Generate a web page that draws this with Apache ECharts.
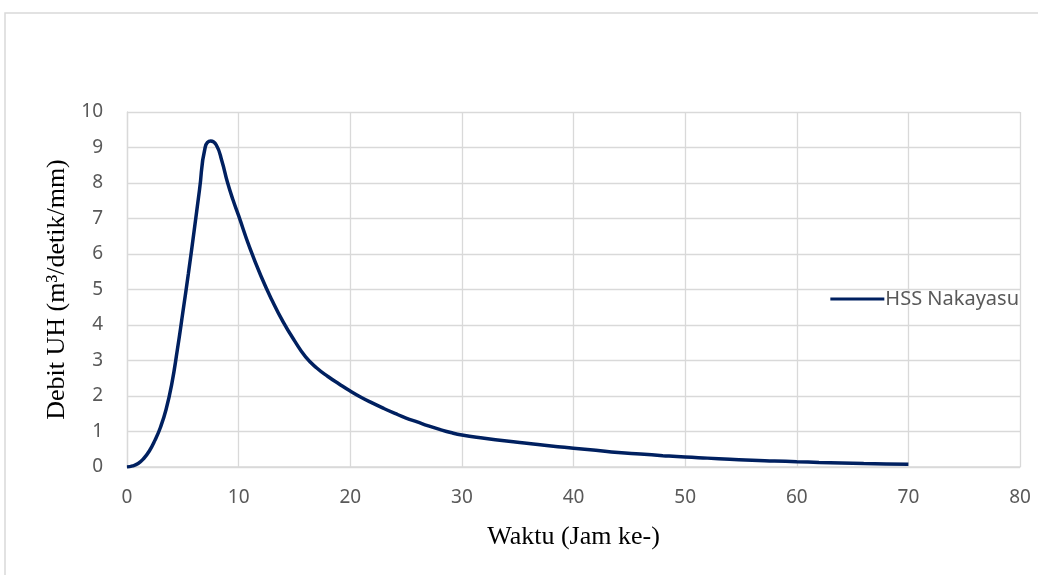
<!DOCTYPE html>
<html>
<head>
<meta charset="utf-8">
<script src="https://cdn.jsdelivr.net/npm/echarts@6/dist/echarts.min.js"></script>
<style>html,body{margin:0;padding:0;background:#fff;}#c{width:1038px;height:575px;}</style>
</head>
<body>
<div id="c"></div>
<script>
const seriesName = 'HSS Nakayasu';
const xTitle = 'Waktu (Jam ke-)';
const yTitle = 'Debit UH (m³/detik/mm)';
const times = [0,0.5,1,1.5,2,2.5,3,3.5,4,4.5,5,5.5,6,6.5,7,7.5,8,8.5,9,9.5,10,11,12,13,14,15,16,17,18,19,20,21,22,23,24,25,26,27,28,29,30,32,34,36,38,40,42,44,46,48,50,52,54,56,58,60,62,64,66,68,70];
const debit = [0,0.03,0.1,0.24,0.45,0.75,1.12,1.62,2.32,3.28,4.35,5.45,6.62,7.82,9.0,9.18,9.07,8.62,8.02,7.52,7.08,6.17,5.38,4.69,4.08,3.56,3.1,2.79,2.55,2.34,2.14,1.96,1.8,1.65,1.51,1.38,1.27,1.16,1.06,0.97,0.9,0.81,0.73,0.66,0.59,0.53,0.47,0.41,0.365,0.32,0.28,0.25,0.22,0.19,0.17,0.148,0.13,0.115,0.1,0.087,0.074];

const chart = echarts.init(document.getElementById('c'), null, {renderer:'canvas'});
const tickFont = {color:'#595959', fontSize:19, fontFamily:'Noto Sans'};
chart.setOption({
  animation:false,
  backgroundColor:'#fff',
  graphic:[{type:'rect', shape:{x:5,y:13,width:1100,height:700}, style:{fill:'none', stroke:'#d9d9d9', lineWidth:1.5}, z:-10}],
  grid:{left:127, right:18, top:112, bottom:108, containLabel:false},
  legend:{
    data:[seriesName], right:14, top:284, itemWidth:54, itemHeight:24, itemGap:4,
    icon:'path://M0,10.5 L54,10.5 L54,13.5 L0,13.5 Z',
    textStyle:{color:'#595959', fontSize:20, fontFamily:'Noto Sans', padding:[0,0,0,-4]}
  },
  xAxis:{
    type:'value', min:0, max:80, interval:10,
    name:xTitle, nameLocation:'middle', nameGap:57,
    nameTextStyle:{color:'#000', fontSize:26, fontFamily:'Liberation Serif'},
    axisLine:{show:true, lineStyle:{color:'#d9d9d9', width:1.5}},
    axisTick:{show:false},
    axisLabel:{...tickFont, margin:21},
    splitLine:{show:true, lineStyle:{color:'#d9d9d9', width:1.3}}
  },
  yAxis:{
    type:'value', min:0, max:10, interval:1,
    name:yTitle, nameLocation:'middle', nameGap:56, nameRotate:90,
    nameTextStyle:{color:'#000', fontSize:26, fontFamily:'Liberation Serif'},
    axisLine:{show:true, lineStyle:{color:'#d9d9d9', width:1.3}},
    axisTick:{show:false},
    axisLabel:{...tickFont, margin:24},
    splitLine:{show:true, lineStyle:{color:'#d9d9d9', width:1.3}}
  },
  series:[{
    name:seriesName, type:'line', smooth:0.5, showSymbol:false, symbol:'none',
    data:times.map((t,i)=>[t,debit[i]]),
    lineStyle:{color:'#002060', width:3.5}, itemStyle:{color:'#002060'}
  }]
});
</script>
</body>
</html>
